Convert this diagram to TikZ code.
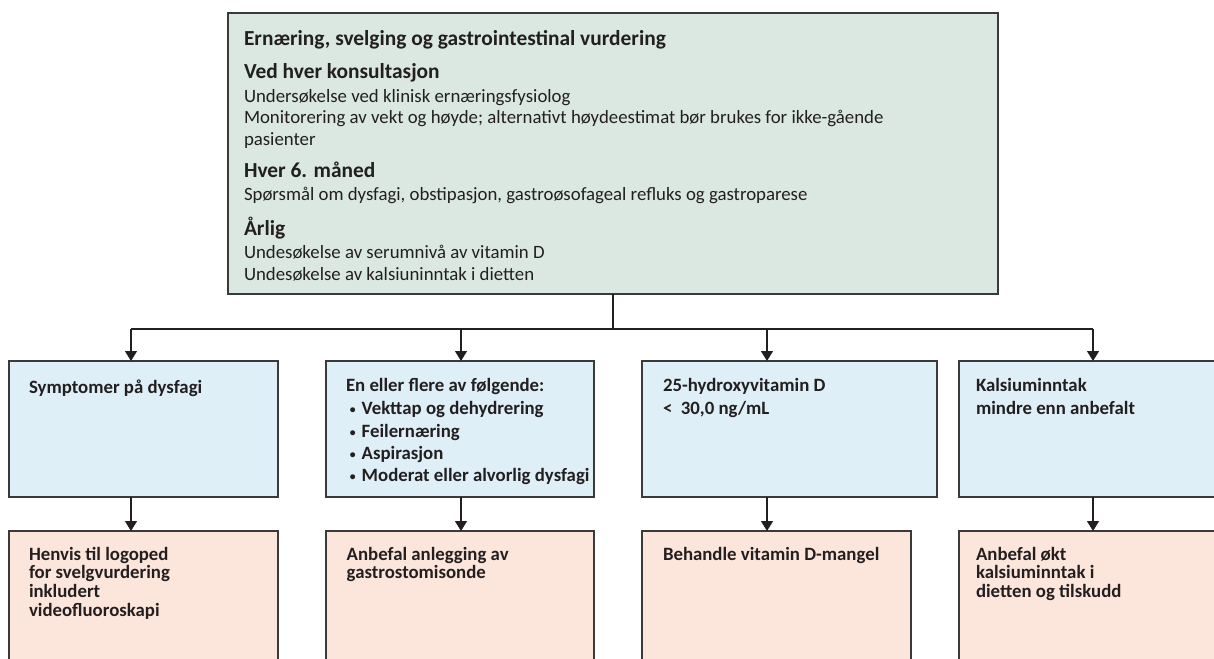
\documentclass[tikz,border=0pt]{standalone}
\usepackage{fontspec}
\setmainfont{Carlito}
\usetikzlibrary{arrows.meta}
\definecolor{topfill}{HTML}{DAE8E1}
\definecolor{bluefill}{HTML}{DFEFF7}
\definecolor{peachfill}{HTML}{FCE6DC}
\definecolor{edge}{HTML}{3A3A3A}
\definecolor{ink}{HTML}{231F20}
% small list bullet
\newcommand\listbul{\llap{\raisebox{0.12ex}{\scalebox{0.62}{\textbullet}}\hspace{6pt}}}
\tikzset{
  box/.style={draw=edge, line width=1.3pt, inner sep=0pt, outer sep=0pt, anchor=north west},
  topbox/.style={box, fill=topfill},
  condbox/.style={box, fill=bluefill},
  actbox/.style={box, fill=peachfill},
  txt/.style={anchor=base west, inner sep=0pt, outer sep=0pt, text=ink, font=\fontsize{18.8}{21}\selectfont},
  btxt/.style={txt, font=\fontsize{18.8}{21}\selectfont\bfseries},
  head/.style={txt, font=\fontsize{21.4}{24}\selectfont\bfseries},
  link/.style={draw=ink, line width=1.3pt},
  arr/.style={link, -{Triangle[width=12pt,length=10pt]}}
}
\begin{document}
\begin{tikzpicture}[x=1pt, y=-1pt]
\useasboundingbox (0,0) rectangle (1214,658);
\clip (0,0) rectangle (1214,658);

% main assessment box
\node[topbox, minimum width=770pt, minimum height=281pt] (top) at (228,13) {};
\node[head] (t1) at (244,45.7) {Ernæring, svelging og gastrointestinal vurdering};
\node[head] (t2) at (244,78.7) {Ved hver konsultasjon};
\node[txt] (t3) at (244,102.3) {Undersøkelse ved klinisk ernæringsfysiolog};
\node[txt] (t4) at (244,123.3) {Monitorering av vekt og høyde; alternativt høydeestimat bør brukes for ikke-gående};
\node[txt] (t5) at (244,145) {pasienter};
\node[head] (t6) at (244,177.3) {Hver 6. måned};
\node[txt] (t7) at (244,200) {Spørsmål om dysfagi, obstipasjon, gastroøsofageal refluks og gastroparese};
\node[head] (t8) at (244,235) {Årlig};
\node[txt] (t9) at (244,258.3) {Undesøkelse av serumnivå av vitamin D};
\node[txt] (t10) at (244,280) {Undesøkelse av kalsiuninntak i dietten};

% findings
\node[condbox, minimum width=269pt, minimum height=136pt] (b1) at (9,361) {};
\node[condbox, minimum width=268pt, minimum height=136pt] (b2) at (326,361) {};
\node[condbox, minimum width=295pt, minimum height=136pt] (b3) at (642,361) {};
\node[condbox, minimum width=268pt, minimum height=136pt] (b4) at (959,361) {};

\node[btxt] (c1) at (29,393.3) {Symptomer på dysfagi};
\node[btxt] (c2a) at (346,391.7) {En eller flere av følgende:};
\node[btxt] (c2b) at (361.7,414.3) {\listbul Vekttap og dehydrering};
\node[btxt] (c2c) at (361.7,437.3) {\listbul Feilernæring};
\node[btxt] (c2d) at (361.7,459.3) {\listbul Aspirasjon};
\node[btxt] (c2e) at (361.7,481.7) {\listbul Moderat eller alvorlig dysfagi};
\node[btxt] (c3a) at (663,391.7) {25-hydroxyvitamin D};
\node[btxt] (c3b) at (663,414.3) {<\ \ 30,0 ng/mL};
\node[btxt] (c4a) at (976,391.7) {Kalsiuminntak};
\node[btxt] (c4b) at (976,414.3) {mindre enn anbefalt};

% actions
\node[actbox, minimum width=269pt, minimum height=180pt] (l1) at (9,531) {};
\node[actbox, minimum width=268pt, minimum height=180pt] (l2) at (326,531) {};
\node[actbox, minimum width=269pt, minimum height=180pt] (l3) at (642,531) {};
\node[actbox, minimum width=268pt, minimum height=180pt] (l4) at (959,531) {};

\node[btxt] (a1a) at (29,560) {Henvis til logoped};
\node[btxt] (a1b) at (29,578.7) {for svelgvurdering};
\node[btxt] (a1c) at (29,597.4) {inkludert};
\node[btxt] (a1d) at (29,616) {videofluoroskapi};
\node[btxt] (a2a) at (346.7,560) {Anbefal anlegging av};
\node[btxt] (a2b) at (346.7,578.7) {gastrostomisonde};
\node[btxt] (a3a) at (663,560) {Behandle vitamin D-mangel};
\node[btxt] (a4a) at (976,560) {Anbefal økt};
\node[btxt] (a4b) at (976,578.7) {kalsiuminntak i};
\node[btxt] (a4c) at (976,597.4) {dietten og tilskudd};

% connectors
\coordinate (d1) at (131,329);
\coordinate (d2) at (461,329);
\coordinate (d3) at (767,329);
\coordinate (d4) at (1093,329);
\draw[link] (top.south) -- (top.south |- d1);
\draw[link] (d1) -- (d4);
\draw[arr] (d1) -- (d1 |- b1.north);
\draw[arr] (d2) -- (d2 |- b2.north);
\draw[arr] (d3) -- (d3 |- b3.north);
\draw[arr] (d4) -- (d4 |- b4.north);
\draw[arr] (d1 |- b1.south) -- (d1 |- l1.north);
\draw[arr] (d2 |- b2.south) -- (d2 |- l2.north);
\draw[arr] (d3 |- b3.south) -- (d3 |- l3.north);
\draw[arr] (d4 |- b4.south) -- (d4 |- l4.north);
\end{tikzpicture}
\end{document}
